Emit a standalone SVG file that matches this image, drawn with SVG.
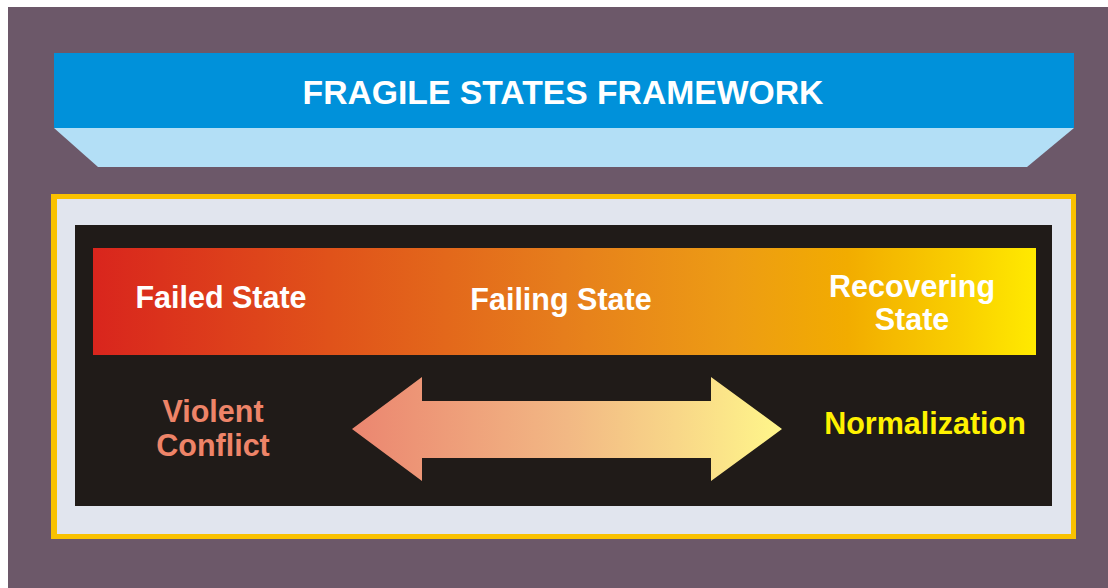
<svg xmlns="http://www.w3.org/2000/svg" width="1108" height="588" viewBox="0 0 1108 588">
  <defs>
    <linearGradient id="barGrad" x1="93" y1="0" x2="1036" y2="0" gradientUnits="userSpaceOnUse">
      <stop offset="0" stop-color="#D9251D"/>
      <stop offset="0.25" stop-color="#E0521A"/>
      <stop offset="0.5" stop-color="#E67E1C"/>
      <stop offset="0.68" stop-color="#ED9C14"/>
      <stop offset="0.8" stop-color="#F2AC00"/>
      <stop offset="0.92" stop-color="#F9CF00"/>
      <stop offset="1" stop-color="#FFEA00"/>
    </linearGradient>
    <linearGradient id="arrowGrad" x1="352" y1="0" x2="782" y2="0" gradientUnits="userSpaceOnUse">
      <stop offset="0" stop-color="#EB8670"/>
      <stop offset="0.5" stop-color="#F2B884"/>
      <stop offset="0.75" stop-color="#F8D688"/>
      <stop offset="1" stop-color="#FFF68A"/>
    </linearGradient>
    <style>
      text { font-family: "Liberation Sans", Arial, sans-serif; font-weight: bold; text-anchor: middle; }
      .white { fill: #FFFFFF; }
      .lbl { font-size: 30.5px; }
    </style>
  </defs>

  <rect x="8" y="7" width="1100" height="581" fill="#6C5869"/>

  <g id="header">
    <polygon points="54,128 1074,128 1027,167 98,167" fill="#B3DFF6"/>
    <rect x="54" y="53" width="1020" height="75" fill="#0091DA"/>
    <text x="563" y="104" class="white" font-size="33.7">FRAGILE STATES FRAMEWORK</text>
  </g>

  <g id="frame">
    <rect x="51" y="194" width="1025" height="345" fill="#F9C200"/>
    <rect x="57" y="199" width="1014" height="335" fill="#E1E5EE"/>
    <rect x="75" y="225" width="977" height="281" fill="#201B18"/>
  </g>

  <g id="spectrum-bar">
    <rect x="93" y="248" width="943" height="107" fill="url(#barGrad)"/>
  </g>

  <g id="failed-state">
    <text x="221" y="308" class="white lbl">Failed State</text>
  </g>
  <g id="failing-state">
    <text x="561" y="310" class="white lbl">Failing State</text>
  </g>
  <g id="recovering-state">
    <text x="912" y="297" class="white lbl">Recovering</text>
    <text x="912" y="330" class="white lbl">State</text>
  </g>

  <g id="violent-conflict">
    <text x="213" y="422" class="lbl" fill="#EE8468">Violent</text>
    <text x="213" y="456" class="lbl" fill="#EE8468">Conflict</text>
  </g>
  <g id="normalization">
    <text x="925" y="434" class="lbl" fill="#FFF200">Normalization</text>
  </g>

  <g id="connectors">
    <polygon points="352,429 422,377 422,401 711,401 711,377 782,429 711,481 711,458 422,458 422,481" fill="url(#arrowGrad)"/>
  </g>
</svg>
